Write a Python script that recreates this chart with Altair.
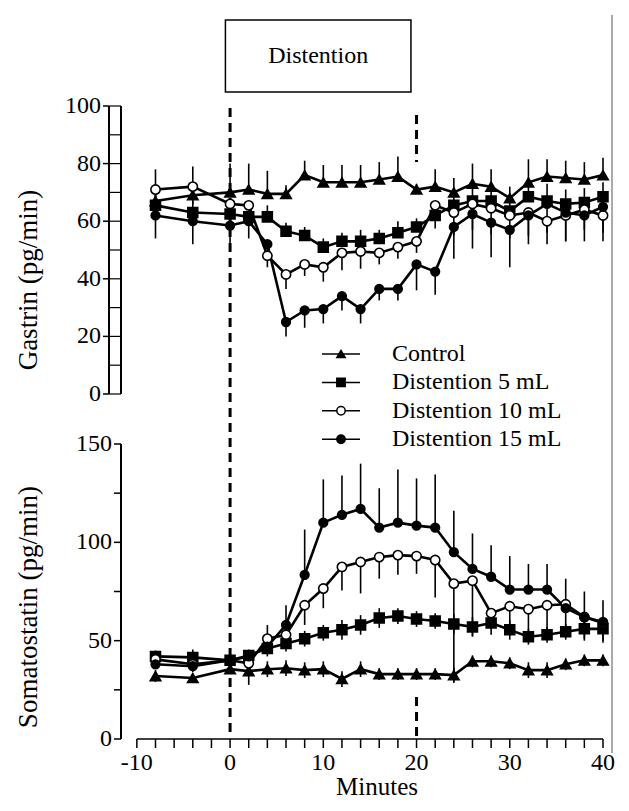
import altair as alt
import pandas as pd

FONT = "Liberation Serif"

minutes = [-8, -4, 0, 2, 4, 6, 8, 10, 12, 14, 16, 18, 20, 22, 24, 26, 28, 30, 32, 34, 36, 38, 40]
series_names = ["Control", "Distention 5 mL", "Distention 10 mL", "Distention 15 mL"]

# Gastrin (pg/min)
gastrin_control = [67, 69, 70, 71, 69.5, 69.5, 76, 73.5, 73.5, 73.5, 74.5, 75.5, 71, 72, 70, 73, 72, 68, 73.5, 75.5, 75, 74.5, 76]
gastrin_5 = [65.5, 63, 62.5, 61.5, 61.5, 56.5, 55, 51, 53, 53, 54, 56, 58, 62, 65.5, 67, 67, 63.5, 68.5, 67, 66, 66.5, 68.5]
gastrin_10 = [71, 72, 66, 65.5, 48, 41.5, 45, 44, 49, 49.5, 49, 51, 53, 65.5, 63, 66, 64.5, 62, 63, 60, 62, 64, 62]
gastrin_15 = [62, 60, 58.5, 60, 52, 25, 29, 29.5, 34, 29.5, 36.5, 36.5, 45, 42.5, 58, 62.5, 59.5, 57, 62, 66, 63, 62, 65]
gastrin_control_err = [11, 10, 10, 9, 8, 3, 5, 6, 6, 6, 6, 7, 2, 6, 5, 7, 6, 4, 8, 6, 6, 6, 6]
gastrin_5_err = [4, 4, 4, 4, 4, 3, 3, 3, 3, 4, 3, 4, 3, 4, 5, 5, 5, 6, 5, 6, 5, 5, 5]
gastrin_10_err = [6, 6, 6, 6, 4, 5, 4, 5, 6, 6, 4, 4, 4, 8, 8, 9, 9, 8, 8, 8, 9, 7, 9]
gastrin_15_err = [8, 8, 7, 6, 5, 5, 6, 5, 5, 5, 4, 4, 9, 8, 11, 12, 12, 13, 10, 10, 10, 9, 9]

# Somatostatin (pg/min)
somato_control = [32, 31, 35.5, 34.5, 35.5, 36, 35, 35.5, 30.5, 35.5, 33, 33, 33, 33, 32.5, 39.5, 39.5, 38.5, 35, 35, 38, 40, 40]
somato_5 = [42, 41.5, 40, 42.5, 46, 48.5, 51, 54, 55.5, 58, 61.5, 62.5, 61, 60, 58.5, 57, 59, 55.5, 52, 53, 54.5, 56, 56]
somato_10 = [40.5, 38, 40, 38.5, 51, 53, 68, 76.5, 87.5, 90, 92.5, 93.5, 93, 91, 79, 80.5, 64, 67.5, 66, 68, 68.5, 62, 59]
somato_15 = [38, 37, 40, 42, 47, 58, 83.5, 110, 114, 117, 107.5, 110, 108.5, 107.5, 95, 86.5, 82.5, 76, 76, 76, 66.5, 62, 59.5]
somato_control_err = [3, 2, 2, 7, 4, 4, 4, 4, 4, 4, 3, 3, 3, 3, 4, 3, 3, 3, 4, 4, 3, 3, 3]
somato_5_err = [3, 4, 2, 3, 4, 4, 4, 4, 5, 5, 5, 4, 4, 4, 5, 5, 6, 5, 4, 4, 4, 5, 6]
somato_10_err = [4, 4, 3, 5, 6, 6, 10, 10, 12, 16, 11, 10, 9, 19, 50, 28, 8, 12, 14, 14, 12, 12, 10]
somato_15_err = [3, 3, 2, 3, 11, 10, 23, 22, 20, 23, 20, 27, 24, 27, 21, 18, 16, 17, 13, 13, 15, 13, 11]

gastrin_ticks = [0, 20, 40, 60, 80, 100]
gastrin_tick_labels = ["0", "20", "40", "60", "80", "100"]
gastrin_strip = [0, 10, 20, 30, 40, 50, 60, 70, 80, 90, 100]
somato_ticks = [0, 25, 50, 75, 100, 125, 150]
somato_label_values = [0, 50, 100, 150]
somato_tick_labels = ["0", "50", "100", "150"]
minute_ticks = list(range(-10, 41, 2))
minute_label_values = [-10, 0, 10, 20, 30, 40]
minute_tick_labels = ["-10", "0", "10", "20", "30", "40"]
distention_period = [0, 20]

shapes = ["triangle-up", "square", "circle", "circle"]
fills = ["black", "black", "white", "black"]
sizes = [110, 75, 95, 70]


def build(values, errs, dirs):
    rows = []
    for name, vals, es, d in zip(series_names, values, errs, dirs):
        for m, v, e in zip(minutes, vals, es):
            lo = v - e if d in ("down", "both") else v
            hi = v + e if d in ("up", "both") else v
            rows.append({"minute": m, "series": name, "value": v, "lo": lo, "hi": hi})
    return pd.DataFrame(rows)


gastrin_df = build([gastrin_control, gastrin_5, gastrin_10, gastrin_15],
                   [gastrin_control_err, gastrin_5_err, gastrin_10_err, gastrin_15_err],
                   ["up", "up", "down", "down"])
somato_df = build([somato_control, somato_5, somato_10, somato_15],
                  [somato_control_err, somato_5_err, somato_10_err, somato_15_err],
                  ["both", "both", "down", "up"])

W = 482
H1 = 288
H2 = 295
GAP = 50
TOT = H1 + GAP + H2

xs = alt.Scale(domain=[-11.7, 40], range=[0, W], nice=False, zero=False)
gy = alt.Scale(domain=[0, 100], range=[H1, 0], nice=False, zero=False)
sy = alt.Scale(domain=[0, 150], range=[TOT, H1 + GAP], nice=False, zero=False)


def X(f):
    return alt.X(f, scale=xs, axis=None)


def Y(f, s):
    return alt.Y(f, scale=s, axis=None)


def panel(df, ys):
    base = alt.Chart(df)
    err = base.mark_rule(color="black", strokeWidth=1.6).encode(
        x=X("minute:Q"), y=Y("lo:Q", ys), y2="hi:Q", detail="series:N")
    line = base.mark_line(color="black", strokeWidth=2.6).encode(
        x=X("minute:Q"), y=Y("value:Q", ys), detail="series:N")
    pts = base.mark_point(filled=True, stroke="black", strokeWidth=1.6, opacity=1).encode(
        x=X("minute:Q"), y=Y("value:Q", ys),
        shape=alt.Shape("series:N", scale=alt.Scale(domain=series_names, range=shapes), legend=None),
        fill=alt.Fill("series:N", scale=alt.Scale(domain=series_names, range=fills), legend=None),
        size=alt.Size("series:N", scale=alt.Scale(domain=series_names, range=sizes), legend=None),
    )
    return [err, line, pts]


def text_mark(size, **kw):
    return dict(font=FONT, fontSize=size, color="black", **kw)


layers = []

# ----- Gastrin y axis (ladder style) -----
gt = pd.DataFrame({"v": gastrin_ticks, "lab": gastrin_tick_labels})
gs = pd.DataFrame({"v": gastrin_strip})
layers.append(alt.Chart(gs).mark_rule(color="black", strokeWidth=1.5).encode(
    x=alt.value(-12), y=alt.value(0), y2=alt.value(H1)))
layers.append(alt.Chart(gs).mark_rule(color="black", strokeWidth=1.2).encode(
    x=alt.value(0), y=alt.value(0), y2=alt.value(H1)))
layers.append(alt.Chart(gs).mark_rule(color="black", strokeWidth=1.2).encode(
    y=Y("v:Q", gy), x=alt.value(-12), x2=alt.value(0)))
layers.append(alt.Chart(gt).mark_rule(color="black", strokeWidth=1.5).encode(
    y=Y("v:Q", gy), x=alt.value(-18), x2=alt.value(-12)))
layers.append(alt.Chart(gt).mark_text(**text_mark(24, align="right", baseline="middle")).encode(
    y=Y("v:Q", gy), x=alt.value(-20), text="lab:N"))

# ----- Somatostatin y axis -----
st = pd.DataFrame({"v": somato_ticks})
sl = pd.DataFrame({"v": somato_label_values, "lab": somato_tick_labels})
layers.append(alt.Chart(st).mark_rule(color="black", strokeWidth=1.5).encode(
    x=alt.value(0), y=alt.value(H1 + GAP), y2=alt.value(TOT)))
layers.append(alt.Chart(st).mark_rule(color="black", strokeWidth=1.5).encode(
    y=Y("v:Q", sy), x=alt.value(-7), x2=alt.value(0)))
layers.append(alt.Chart(sl).mark_text(**text_mark(24, align="right", baseline="middle")).encode(
    y=Y("v:Q", sy), x=alt.value(-9), text="lab:N"))

# ----- Minutes x axis -----
mt = pd.DataFrame({"v": minute_ticks})
ml = pd.DataFrame({"v": minute_label_values, "lab": minute_tick_labels})
layers.append(alt.Chart(pd.DataFrame({"a": [minute_ticks[0]], "b": [minute_ticks[-1]]})).mark_rule(
    color="black", strokeWidth=1.5).encode(x=X("a:Q"), x2="b:Q", y=alt.value(TOT)))
layers.append(alt.Chart(mt).mark_rule(color="black", strokeWidth=1.5).encode(
    x=X("v:Q"), y=alt.value(TOT), y2=alt.value(TOT + 9)))
layers.append(alt.Chart(ml).mark_text(**text_mark(24, align="center", baseline="top")).encode(
    x=X("v:Q"), y=alt.value(TOT + 12), text="lab:N"))

# ----- Titles -----
layers.append(alt.Chart(pd.DataFrame({"t": ["Gastrin (pg/min)"]})).mark_text(
    **text_mark(27, angle=270, align="center", baseline="middle")).encode(
    x=alt.value(-92), y=alt.value(174), text="t:N"))
layers.append(alt.Chart(pd.DataFrame({"t": ["Somatostatin (pg/min)"]})).mark_text(
    **text_mark(27, angle=270, align="center", baseline="middle")).encode(
    x=alt.value(-92), y=alt.value(H1 + GAP + 163), text="t:N"))
layers.append(alt.Chart(pd.DataFrame({"t": ["Minutes"]})).mark_text(
    **text_mark(25, align="center", baseline="middle")).encode(
    x=alt.value(256), y=alt.value(H1 + GAP + 343), text="t:N"))

# ----- Distention markers -----
ev = pd.DataFrame({"m": distention_period})
layers.append(alt.Chart(ev).transform_filter("datum.m == 0").mark_rule(
    color="black", strokeWidth=3, strokeDash=[9, 6]).encode(
    x=X("m:Q"), y=alt.value(2), y2=alt.value(TOT - 1)))
layers.append(alt.Chart(ev).transform_filter("datum.m == 20").mark_rule(
    color="black", strokeWidth=3, strokeDash=[9, 6]).encode(
    x=X("m:Q"), y=alt.value(9), y2=alt.value(56)))
layers.append(alt.Chart(ev).transform_filter("datum.m == 20").mark_rule(
    color="black", strokeWidth=3, strokeDash=[9, 6]).encode(
    x=X("m:Q"), y=alt.value(H1 + GAP + 253), y2=alt.value(TOT)))

box_df = pd.DataFrame({"label": ["Distention"], "start": [-0.5], "end": [19.4], "mid": [9.45]})
layers.append(alt.Chart(box_df).mark_rect(fill="white", stroke="black", strokeWidth=1.5).encode(
    x=X("start:Q"), x2="end:Q", y=alt.value(-86), y2=alt.value(-14)))
layers.append(alt.Chart(box_df).mark_text(**text_mark(24, align="center", baseline="middle")).encode(
    x=X("mid:Q"), y=alt.value(-50), text="label:N"))

# page edge line on the right
layers.append(alt.Chart(box_df).mark_rule(color="#555", strokeWidth=1).encode(
    x=alt.value(491), y=alt.value(-91), y2=alt.value(TOT + 14)))

# ----- Data -----
layers += panel(gastrin_df, gy)
layers += panel(somato_df, sy)

# ----- Legend -----
for i, (name, shp, fl) in enumerate(zip(series_names, shapes, fills)):
    ld = pd.DataFrame({"series": [name]})
    yy = 248 + 28.4 * i
    layers.append(alt.Chart(ld).mark_rule(color="black", strokeWidth=1.5).encode(
        x=alt.value(201), x2=alt.value(239), y=alt.value(yy)))
    layers.append(alt.Chart(ld).mark_point(shape=shp, filled=True, fill=fl, stroke="black",
                                           strokeWidth=1.5, size=70, opacity=1).encode(
        x=alt.value(220), y=alt.value(yy)))
    layers.append(alt.Chart(ld).mark_text(**text_mark(24, align="left", baseline="middle")).encode(
        x=alt.value(271), y=alt.value(yy), text="series:N"))

chart = alt.layer(*layers).resolve_scale(y="independent").properties(
    width=W, height=TOT,
    autosize=alt.AutoSizeParams(type="none"),
    padding={"left": 113, "top": 98, "right": 16, "bottom": 60},
).configure_view(stroke=None)

chart.save("out.html", embed_options={"renderer": "svg", "actions": False})
